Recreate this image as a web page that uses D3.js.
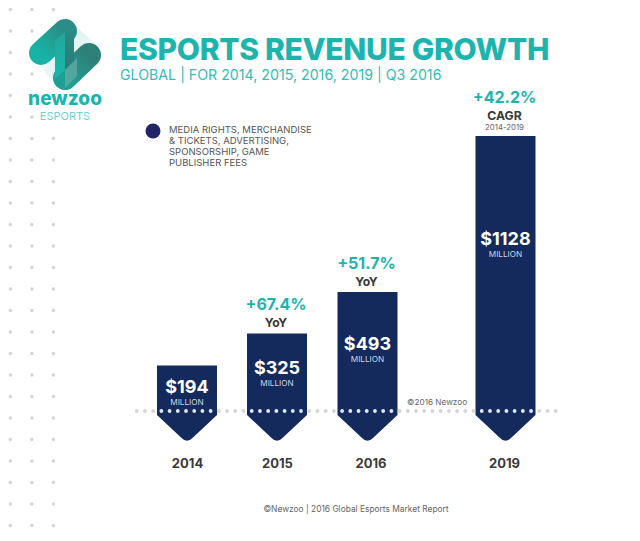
<!DOCTYPE html>
<html>
<head>
<meta charset="utf-8">
<script src="https://cdn.jsdelivr.net/npm/d3@7"></script>
<style>
  html, body { margin: 0; padding: 0; background: #fff; }
  svg { display: block; }
  text { font-family: Inter, "Open Sans", sans-serif; }
</style>
</head>
<body>
<div id="chart"></div>
<script>
const years = ["2014", "2015", "2016", "2019"];
const revenue = [194, 325, 493, 1128];
const growthPct = ["+67.4%", "+51.7%", "+42.2%"];
const growthYears = ["2015", "2016", "2019"];
const growthKind = ["YoY", "YoY", "CAGR"];
const legendLines = ["MEDIA RIGHTS, MERCHANDISE", "& TICKETS, ADVERTISING,", "SPONSORSHIP, GAME", "PUBLISHER FEES"];

const width = 640;
const height = 541;
const teal = "#1db4ae";
const navy = "#152a5c";
const barWidth = 60;
const baseY = 411;

const svg = d3.select("#chart").append("svg")
    .attr("width", width)
    .attr("height", height);

const defs = svg.append("defs");
function gradient(id, x1, y1, x2, y2, stops) {
    const g = defs.append("linearGradient").attr("id", id)
        .attr("x1", x1).attr("y1", y1).attr("x2", x2).attr("y2", y2);
    stops.forEach(s => g.append("stop").attr("offset", s[0]).attr("stop-color", s[1]));
}
gradient("barA", 0, 1, 1, 0, [[0, "#18b3a5"], [1, "#2b8d85"]]);
gradient("barB", 0, 1, 1, 0, [[0, "#1f9f96"], [1, "#2f8079"]]);
gradient("midL", 0, 0, 0, 1, [[0, "#22a79d"], [1, "#18b7aa"]]);
gradient("midR", 0, 0, 0, 1, [[0, "#2a8f88"], [1, "#2a7a75"]]);
gradient("fadeA", 0, 0, 1, 1, [[0, "#cfeeeb"], [1, "#ffffff"]]);
gradient("fadeB", 1, 1, 0, 0, [[0, "#cfeeeb"], [1, "#ffffff"]]);

// Background dot column on the left, skipping the dots the logo covers
const hiddenDots = new Set(["2,1", "1,2", "2,2", "2,3", "1,4", "2,4", "2,5"]);
const dotX = d3.scaleLinear().domain([0, 1]).range([10.4, 31.9]);
const dotY = d3.scaleLinear().domain([0, 1]).range([9.5, 31]);
d3.range(25).forEach(row => {
    d3.range(3).forEach(col => {
        if (hiddenDots.has(col + "," + row)) return;
        svg.append("circle")
            .attr("cx", dotX(col))
            .attr("cy", dotY(row))
            .attr("r", 1.7)
            .attr("fill", "#d4d4d4");
    });
});

// Logo
const logo = svg.append("g");
logo.append("path").attr("d", "M70,21 L99,47 L74,60 Z").attr("fill", "url(#fadeA)");
logo.append("path").attr("d", "M60,88 L39,66 L55,50 Z").attr("fill", "url(#fadeB)");
logo.append("path").attr("d", "M41,53 L65,31")
    .attr("stroke", "url(#barA)").attr("stroke-width", 24).attr("stroke-linecap", "round").attr("fill", "none");
logo.append("path").attr("d", "M65,78 L89,55")
    .attr("stroke", "url(#barB)").attr("stroke-width", 24).attr("stroke-linecap", "round").attr("fill", "none");
logo.append("path").attr("d", "M55,41 L65,32 L65,70 L55,79 Z").attr("fill", "url(#midL)");
logo.append("path").attr("d", "M65,32 L74,24 L74,61 L65,70 Z").attr("fill", "url(#midR)");
logo.append("path").attr("d", "M65,70 L77,58 L77,76 L65,88 Z").attr("fill", "#5fa9a1").attr("opacity", 0.8);
logo.append("text").attr("x", 65).attr("y", 105).attr("text-anchor", "middle")
    .attr("font-size", 19).attr("font-weight", 800).attr("fill", teal).text("newzoo");
logo.append("text").attr("x", 65).attr("y", 120).attr("text-anchor", "middle")
    .attr("font-size", 11).attr("fill", "#6fd3ce").text("ESPORTS");

// Header
svg.append("text").attr("x", 120).attr("y", 60)
    .attr("font-size", 30).attr("font-weight", 800).attr("letter-spacing", -0.3).attr("fill", teal)
    .text("ESPORTS REVENUE GROWTH");
svg.append("text").attr("x", 120).attr("y", 80)
    .attr("font-size", 14.2).attr("fill", "#35bcb6")
    .text("GLOBAL | FOR 2014, 2015, 2016, 2019 | Q3 2016");

// Legend
svg.append("circle").attr("cx", 153).attr("cy", 131).attr("r", 7.5).attr("fill", "#1f2566");
svg.append("g").selectAll("text").data(legendLines).join("text")
    .attr("x", 169)
    .attr("y", (d, i) => 133 + i * 11)
    .attr("font-size", 9.5)
    .attr("fill", "#555")
    .text(d => d);

// Scales
const x = d3.scaleOrdinal().domain(years).range([187, 277, 367.5, 505.5]);
const y = d3.scaleLinear().domain([0, 1128]).range([413.3, 136]);
// where the value label sits inside each bar
const labelY = d3.scaleLinear().domain([194, 493, 1128]).range([393, 350, 245]);

// Bars with arrow tips
function barPath(year, value) {
    const cx = x(year), half = barWidth / 2;
    const p = d3.path();
    p.moveTo(cx - half, y(value));
    p.lineTo(cx + half, y(value));
    p.lineTo(cx + half, 415);
    p.lineTo(cx + 6, 437.5);
    p.quadraticCurveTo(cx, 444, cx - 6, 437.5);
    p.lineTo(cx - half, 415);
    p.closePath();
    return p.toString();
}

svg.append("g").selectAll("path").data(years).join("path")
    .attr("d", (d, i) => barPath(d, revenue[i]))
    .attr("fill", navy);

// Dotted baseline, lighter where it crosses a bar
const baseDotX = d3.scaleLinear().domain([0, 51]).range([136.7, 555.7]);
svg.append("g").selectAll("circle").data(d3.range(52)).join("circle")
    .attr("cx", d => baseDotX(d))
    .attr("cy", baseY)
    .attr("r", 1.9)
    .attr("fill", d => years.some(yr => Math.abs(baseDotX(d) - x(yr)) < barWidth / 2) ? "#e4e7ee" : "#d6d6d6");

// Value labels
const valueLabels = svg.append("g").attr("text-anchor", "middle");
years.forEach((yr, i) => {
    valueLabels.append("text")
        .attr("x", x(yr)).attr("y", labelY(revenue[i]))
        .attr("font-size", 18).attr("font-weight", 700).attr("fill", "#fff")
        .text("$" + revenue[i]);
    valueLabels.append("text")
        .attr("x", x(yr)).attr("y", labelY(revenue[i]) + 11.5)
        .attr("font-size", 8.2).attr("fill", "#d0d5e2")
        .text("MILLION");
});

// Growth labels above the bars
const growth = svg.append("g").attr("text-anchor", "middle");
growthYears.forEach((yr, i) => {
    const top = y(revenue[years.indexOf(yr)]);
    const kindGap = growthKind[i] === "CAGR" ? 16.5 : 6.5;
    growth.append("text")
        .attr("x", x(yr) - 1).attr("y", top - kindGap)
        .attr("font-size", 12.2).attr("font-weight", 700).attr("fill", "#3a3a3a")
        .text(growthKind[i]);
    growth.append("text")
        .attr("x", x(yr) - 1).attr("y", top - kindGap - 16.5)
        .attr("font-size", 16).attr("font-weight", 700).attr("fill", teal)
        .text(growthPct[i]);
});
growth.append("text").attr("x", x("2019") - 1).attr("y", 130)
    .attr("font-size", 7.8).attr("fill", "#666").text("2014-2019");

// Year axis, the 2016 and 2019 labels sit slightly off their bars in the original
const xAxis = svg.append("g")
    .attr("transform", "translate(0,454)")
    .call(d3.axisBottom(x).tickSize(0).tickPadding(5));
xAxis.select(".domain").remove();
xAxis.selectAll("text")
    .attr("font-family", "Inter")
    .attr("font-size", 13)
    .attr("font-weight", 700)
    .attr("fill", "#3a3a3a")
    .attr("dx", d => d === "2016" ? 3 : d === "2019" ? -1.5 : 0);

// Credits
svg.append("text").attr("x", 407).attr("y", 405)
    .attr("font-size", 8.2).attr("fill", "#666").text("©2016 Newzoo");
svg.append("text").attr("x", 356).attr("y", 512).attr("text-anchor", "middle")
    .attr("font-size", 8.4).attr("fill", "#666").text("©Newzoo | 2016 Global Esports Market Report");
</script>
</body>
</html>
